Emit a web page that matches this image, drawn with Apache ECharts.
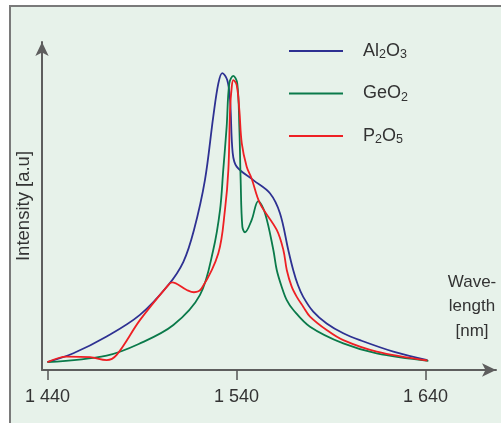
<!DOCTYPE html>
<html>
<head>
<meta charset="utf-8">
<script src="https://cdn.jsdelivr.net/npm/echarts@6/dist/echarts.min.js"></script>
<style>html,body{margin:0;padding:0;background:#fff}#c{width:501px;height:423px}</style>
</head>
<body>
<div id="c"></div>
<script>
// Wavelength (nm) and intensity (a.u.)
const al2o3 = [
  [1440,2.4],[1453.7,5.1],[1471.3,10.2],[1488.9,16.8],[1503.9,25.9],[1511.9,33.0],
  [1517.5,42.7],[1523.3,57.9],[1527.7,77.2],[1530.4,87.4],[1532.5,90.5],[1535.1,88.4],
  [1536.6,82.3],[1538.0,66.1],[1540.1,62.0],[1548.9,57.9],[1557.7,53.9],[1563.0,47.8],
  [1567.4,36.6],[1570.0,30.5],[1572.5,25.9],[1575.3,22.3],[1580.6,17.8],[1587.7,14.2],
  [1596.5,11.2],[1605.3,9.1],[1623.0,5.6],[1641.0,3.0]
];
const geo2 = [
  [1440,2.4],[1471.3,4.4],[1488.9,8.1],[1506.6,13.7],[1520.7,22.9],[1527.7,36.6],
  [1531.3,48.8],[1533.0,61.0],[1534.8,74.2],[1536.2,87.4],[1538.3,89.7],[1540.4,87.4],
  [1541.5,74.2],[1542.2,57.9],[1543.1,43.7],[1544.5,42.0],[1548.0,45.7],[1551.5,51.5],
  [1555.1,47.8],[1559.5,36.6],[1561.3,30.5],[1563.9,25.4],[1566.6,21.3],[1570.1,18.3],
  [1578.9,13.2],[1596.5,8.1],[1614.2,5.1],[1641.5,2.8]
];
const p2o5 = [
  [1440,2.4],[1450.2,4.1],[1462.5,3.9],[1471.3,3.0],[1476.6,4.6],[1488.9,15.2],
  [1503.9,25.9],[1505.9,26.7],[1513.7,24.4],[1517.5,23.7],[1521.6,24.9],[1530.4,35.6],
  [1533.9,48.8],[1535.7,61.0],[1536.6,79.3],[1537.5,86.4],[1538.3,88.4],[1540.1,86.9],
  [1541.5,79.3],[1542.8,69.1],[1545.4,62.0],[1548.0,58.4],[1552.4,50.8],[1561.3,42.7],
  [1564.8,36.6],[1566.6,30.5],[1569.2,25.4],[1571.9,22.3],[1575.3,19.3],[1578.9,16.3],
  [1587.7,12.2],[1596.5,9.1],[1614.2,5.6],[1641.0,2.9]
];
const seriesNames = ['Al2O3','GeO2','P2O5'];
const legendRich = {'Al2O3':'{g|}Al{s|2}O{s|3}','GeO2':'{g|}GeO{s|2}','P2O5':'{g|}P{s|2}O{s|5}'};
const tickValues = [1440,1540,1640];
const tickLabels = ['1 440','1 540','1 640'];
const colors = ['#2e3192','#0a7a4a','#ee2024'];

const chart = echarts.init(document.getElementById('c'), null, {renderer:'canvas'});
const font = 'Liberation Sans, Arial, sans-serif';
const datasets = [al2o3, geo2, p2o5];
chart.setOption({
  backgroundColor:'#ffffff',
  animation:false,
  textStyle:{fontFamily:font},
  graphic:[
    {type:'rect', z:-100, shape:{x:10,y:6,width:500,height:430},
     style:{fill:'#e7f2ea', stroke:'#7a7a7a', lineWidth:2}},
    {type:'text', x:472, y:270, z:10,
     style:{text:'Wave-\nlength\n[nm]', fontSize:17, fontFamily:font, fill:'#333333',
            textAlign:'center', textVerticalAlign:'top', lineHeight:24.5}}
  ],
  grid:{left:42, right:5, top:42, bottom:53},
  legend:{
    orient:'vertical', left:284, top:36, icon:'rect', itemWidth:54, itemHeight:2, itemGap:22,
    data:seriesNames,
    formatter:function(n){return legendRich[n];},
    textStyle:{fontSize:18, color:'#333333', fontFamily:font, lineHeight:20,
      rich:{g:{width:15}, s:{fontSize:12.5, padding:[8,0,0,0], fontFamily:font, color:'#333333'}}}
  },
  xAxis:{
    type:'value', min:1437.1, max:1677.3,
    splitLine:{show:false},
    axisLine:{lineStyle:{color:'#5e5e5e', width:2}, symbol:['none','arrow'], symbolSize:[10,14]},
    axisTick:{show:true, inside:false, length:10, customValues:tickValues, lineStyle:{color:'#555555', width:1.5}},
    axisLabel:{customValues:tickValues, margin:18, fontSize:18, color:'#333333',
      formatter:function(v){return tickLabels[tickValues.indexOf(v)];}}
  },
  yAxis:{
    type:'value', min:0, max:100,
    name:'Intensity [a.u]', nameLocation:'middle', nameGap:9,
    nameTextStyle:{fontSize:18.5, color:'#333333', fontFamily:font},
    splitLine:{show:false}, axisTick:{show:false}, axisLabel:{show:false},
    axisLine:{lineStyle:{color:'#5e5e5e', width:2}, symbol:['none','arrow'], symbolSize:[10,14]}
  },
  series: seriesNames.map(function(n,i){
    return {name:n, type:'line', data:datasets[i], smooth:0.35, symbol:'none',
      lineStyle:{color:colors[i], width:1.8}, itemStyle:{color:colors[i]}};
  })
});
</script>
</body>
</html>
